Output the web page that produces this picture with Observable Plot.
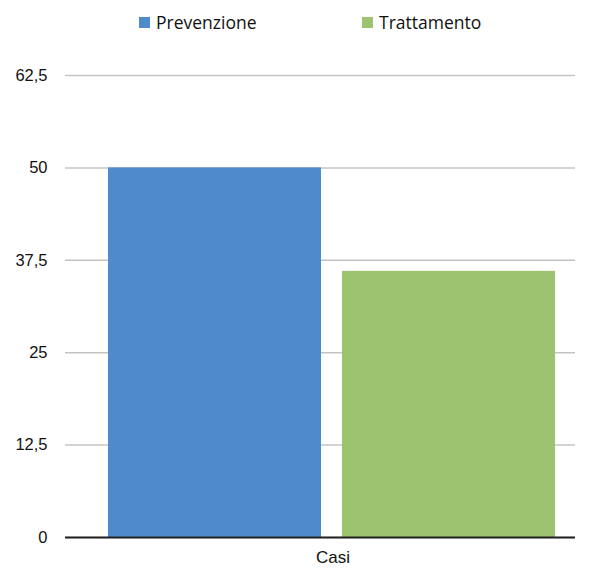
<!DOCTYPE html>
<html>
<head>
<meta charset="utf-8">
<script src="https://cdn.jsdelivr.net/npm/d3@7"></script>
<script src="https://cdn.jsdelivr.net/npm/@observablehq/plot@0.6"></script>
<style>
  html, body { margin: 0; padding: 0; background: #fff; }
  #wrap { position: relative; width: 590px; height: 571px; overflow: hidden; }
  #legend { position: absolute; left: 0; top: 0; width: 590px; height: 45px; font-family: "Open Sans", Lato, sans-serif; font-size: 17.5px; color: #111; }
  .item { position: absolute; top: 10px; display: flex; align-items: center; }
  .sw { width: 11px; height: 11px; margin-right: 6px; }
  #chart { position: absolute; left: 0; top: 45px; }
</style>
</head>
<body>
<div id="wrap">
  <div id="legend"></div>
  <div id="chart"></div>
</div>
<script>
const categories = ["Prevenzione", "Trattamento"];
const values = [50, 36];
const group = "Casi";
const yTicks = [0, 12.5, 25, 37.5, 50, 62.5];
const colors = ["#4f8acb", "#9cc470"];

const data = categories.map((c, i) => ({category: c, value: values[i]}));
const fmt = d => String(d).replace(".", ",");

const legend = document.getElementById("legend");
const legendX = [139, 362];
categories.forEach((c, i) => {
  const it = document.createElement("div");
  it.className = "item";
  it.style.left = legendX[i] + "px";
  const sw = document.createElement("span");
  sw.className = "sw";
  sw.style.background = colors[i];
  const t = document.createElement("span");
  t.textContent = c;
  it.appendChild(sw); it.appendChild(t);
  legend.appendChild(it);
});

const chart = Plot.plot({
  width: 590,
  height: 526,
  marginTop: 30,
  marginBottom: 34,
  marginLeft: 65,
  marginRight: 15,
  style: {fontFamily: "'Liberation Sans', Arial, sans-serif", fontSize: "16.5px", color: "#111", background: "#fff"},
  x: {domain: categories, range: [108, 556], paddingInner: 0.088, paddingOuter: 0, axis: null},
  y: {domain: [0, 62.5], axis: null},
  color: {domain: categories, range: colors},
  marks: [
    Plot.gridY(yTicks, {stroke: "#c4c4c4", strokeOpacity: 1, strokeWidth: 1.5}),
    Plot.axisY(yTicks, {tickFormat: fmt, tickSize: 0, tickPadding: 18, fontSize: 16.5, fill: "#111", label: null}),
    Plot.barY(data, {x: "category", y: "value", fill: "category"}),
    Plot.ruleY([0], {stroke: "#222", strokeWidth: 2}),
    Plot.text([group], {frameAnchor: "bottom", dx: 12.5, dy: 20, fontSize: 17, fill: "#111", lineAnchor: "middle"})
  ]
});
document.getElementById("chart").appendChild(chart);
</script>
</body>
</html>
